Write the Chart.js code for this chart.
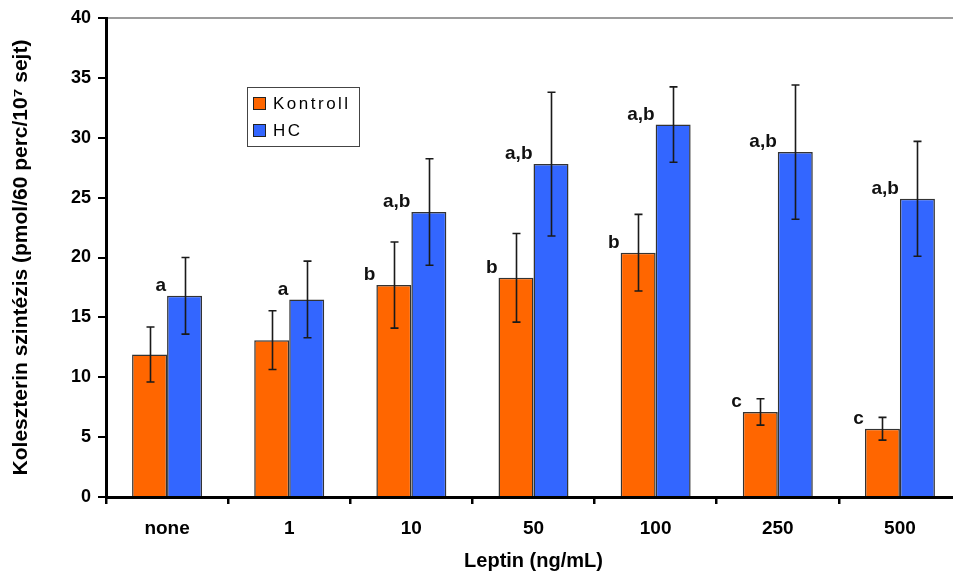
<!DOCTYPE html>
<html>
<head>
<meta charset="utf-8">
<script src="https://cdn.jsdelivr.net/npm/chart.js@4"></script>
<style>
    html, body { margin: 0; padding: 0; background: #fff; overflow: hidden; }
    #wrap { width: 970px; height: 576px; }
</style>
</head>
<body>
<div id="wrap"><canvas id="chol-chart"></canvas></div>
<script>
const leptinDoses = ['none', '1', '10', '50', '100', '250', '500'];

const kontrollMeans = [11.9, 13.1, 17.7, 18.3, 20.4, 7.1, 5.7];
const kontrollErrors = [2.3, 2.45, 3.6, 3.7, 3.2, 1.1, 0.95];
const kontrollLetters = ['', '', 'b', 'b', 'b', 'c', 'c'];

const hcMeans = [16.8, 16.5, 23.8, 27.8, 31.1, 28.8, 24.9];
const hcErrors = [3.2, 3.2, 4.45, 6.0, 3.15, 5.6, 4.8];
const hcLetters = ['a', 'a', 'a,b', 'a,b', 'a,b', 'a,b', 'a,b'];

const yTicks = [0, 5, 10, 15, 20, 25, 30, 35, 40];

const FONT = '"Liberation Sans", Arial, sans-serif';

// error bars (mean +/- SD) drawn on top of each bar
const errorBars = {
    id: 'errorBars',
    afterDatasetsDraw(chart) {
        const ctx = chart.ctx;
        const y = chart.scales.y;
        ctx.save();
        ctx.strokeStyle = '#1a1a1a';
        ctx.lineWidth = 1.6;
        chart.data.datasets.forEach((ds, di) => {
            const meta = chart.getDatasetMeta(di);
            meta.data.forEach((bar, i) => {
                const hi = y.getPixelForValue(ds.data[i] + ds.errors[i]);
                const lo = y.getPixelForValue(ds.data[i] - ds.errors[i]);
                const x = Math.round(bar.x) + 0.5;
                ctx.beginPath();
                ctx.moveTo(x, hi);
                ctx.lineTo(x, lo);
                ctx.moveTo(x - 4, hi);
                ctx.lineTo(x + 4, hi);
                ctx.moveTo(x - 4, lo);
                ctx.lineTo(x + 4, lo);
                ctx.stroke();
            });
        });
        ctx.restore();
    }
};

// significance letters, set just left of and above each bar
const sigLetters = {
    id: 'sigLetters',
    afterDatasetsDraw(chart) {
        const ctx = chart.ctx;
        const y = chart.scales.y;
        ctx.save();
        ctx.fillStyle = '#111';
        ctx.font = 'bold 19px ' + FONT;
        ctx.textAlign = 'right';
        ctx.textBaseline = 'middle';
        chart.data.datasets.forEach((ds, di) => {
            const meta = chart.getDatasetMeta(di);
            meta.data.forEach((bar, i) => {
                const txt = ds.letters[i];
                if (!txt) return;
                ctx.fillText(txt, bar.x - bar.width / 2 - 1, y.getPixelForValue(ds.data[i]) - 10);
            });
        });
        ctx.restore();
    }
};

// boxed legend inside the plot area
const boxLegend = {
    id: 'boxLegend',
    afterDraw(chart) {
        const ctx = chart.ctx;
        const area = chart.chartArea;
        const left = area.left + 141;
        const top = area.top + 69;
        ctx.save();
        ctx.fillStyle = '#fff';
        ctx.fillRect(left, top, 112, 59);
        ctx.strokeStyle = '#444';
        ctx.lineWidth = 1;
        ctx.strokeRect(left + 0.5, top + 0.5, 112, 59);
        ctx.font = '17px ' + FONT;
        ctx.letterSpacing = '2.5px';
        ctx.textBaseline = 'middle';
        chart.data.datasets.forEach((ds, i) => {
            const rowY = top + 16 + i * 27;
            ctx.fillStyle = ds.backgroundColor;
            ctx.fillRect(left + 6, rowY - 6, 12, 12);
            ctx.strokeStyle = '#222';
            ctx.strokeRect(left + 6.5, rowY - 5.5, 12, 12);
            ctx.fillStyle = '#000';
            ctx.fillText(ds.label, left + 26, rowY + 1);
        });
        ctx.restore();
    }
};

const ctx = document.getElementById('chol-chart').getContext('2d');

new Chart(ctx, {
    type: 'bar',
    data: {
        labels: leptinDoses,
        datasets: [{
            label: 'Kontroll',
            data: kontrollMeans,
            errors: kontrollErrors,
            letters: kontrollLetters,
            backgroundColor: '#ff6600',
            borderColor: '#333',
            borderWidth: 1.5
        }, {
            label: 'HC',
            data: hcMeans,
            errors: hcErrors,
            letters: hcLetters,
            backgroundColor: '#3366ff',
            borderColor: '#333',
            borderWidth: 1.5
        }]
    },
    options: {
        responsive: true,
        maintainAspectRatio: false,
        animation: false,
        categoryPercentage: 0.573,
        barPercentage: 1.0,
        layout: { padding: { left: 0, right: 9, top: 18, bottom: 0 } },
        plugins: {
            legend: { display: false },
            tooltip: { enabled: false }
        },
        scales: {
            x: {
                afterFit(scale) { scale.height = 79; },
                border: { color: '#000', width: 3 },
                grid: {
                    drawOnChartArea: false,
                    color: '#000',
                    lineWidth: 2.5,
                    tickLength: 7
                },
                ticks: {
                    color: '#000',
                    padding: 13,
                    font: { family: FONT, size: 19, weight: 'bold' }
                },
                title: {
                    display: true,
                    text: 'Leptin (ng/mL)',
                    color: '#000',
                    padding: { top: 0, bottom: 3 },
                    font: { family: FONT, size: 20, weight: 'bold', lineHeight: 1.2 }
                }
            },
            y: {
                min: 0,
                max: 40,
                afterFit(scale) { scale.width = 106; },
                afterBuildTicks(scale) {
                    scale.ticks = yTicks.map(v => ({ value: v }));
                },
                border: { color: '#000', width: 3 },
                grid: {
                    color: c => c.tick.value === 40 ? '#9c9c9c' : 'rgba(0,0,0,0)',
                    tickColor: '#000',
                    lineWidth: 2,
                    tickLength: 8
                },
                ticks: {
                    color: '#000',
                    padding: 7,
                    font: { family: FONT, size: 18, weight: 'bold' }
                },
                title: {
                    display: true,
                    text: 'Koleszterin szintézis (pmol/60 perc/10⁷ sejt)',
                    color: '#000',
                    padding: { top: 10, bottom: 0 },
                    font: { family: FONT, size: 21, weight: 'bold', lineHeight: 1.1 }
                }
            }
        }
    },
    plugins: [errorBars, sigLetters, boxLegend]
});
</script>
</body>
</html>
